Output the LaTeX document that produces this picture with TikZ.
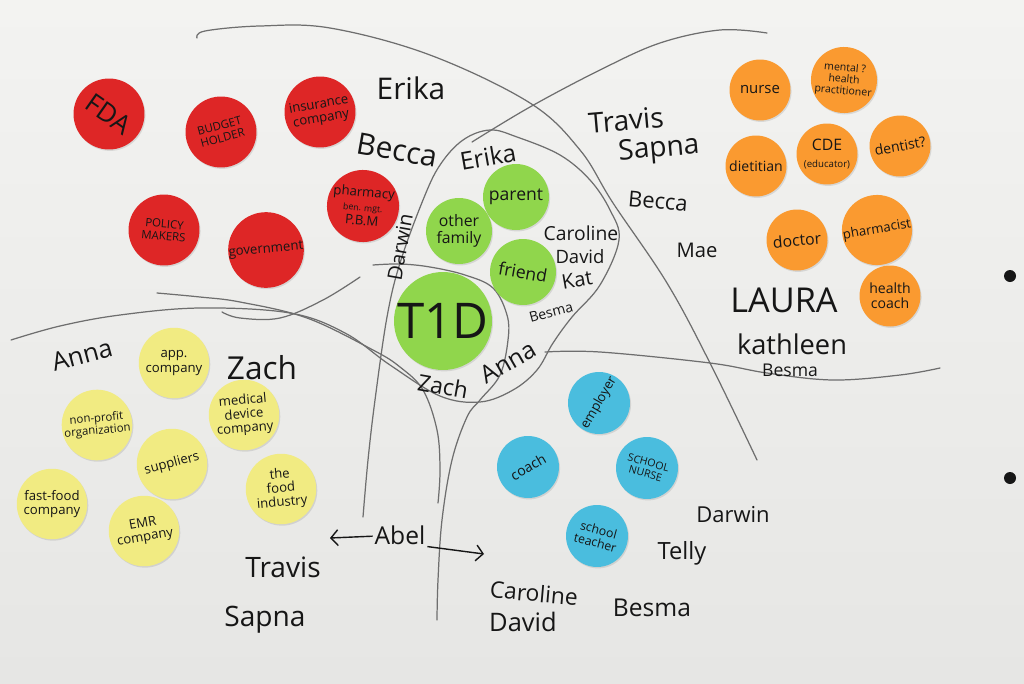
\documentclass[tikz,border=0pt]{standalone}
\usepackage{fontspec}
\setmainfont{Open Sans}
\usepackage{tikz}
\usetikzlibrary{arrows,arrows.meta,positioning,shadows}

\definecolor{boardtop}{RGB}{243,243,241}
\definecolor{boardbottom}{RGB}{230,230,228}
\definecolor{pencil}{RGB}{110,110,110}
\definecolor{ink}{RGB}{22,22,22}
\definecolor{stickerred}{RGB}{222,38,38}
\definecolor{stickerorange}{RGB}{250,154,48}
\definecolor{stickergreen}{RGB}{144,214,76}
\definecolor{stickeryellow}{RGB}{241,235,130}
\definecolor{stickercyan}{RGB}{74,189,222}

\begin{document}
\begin{tikzpicture}[x=0.02cm,y=-0.02cm,
    sticker/.style={circle, inner sep=0pt, align=center, text=ink,
      font=\fontsize{7.5}{8}\selectfont,
      drop shadow={opacity=0.22, shadow xshift=0.6pt, shadow yshift=-0.8pt}},
    redsticker/.style={sticker, fill=stickerred, minimum size=1.42cm},
    orangesticker/.style={sticker, fill=stickerorange, minimum size=1.22cm},
    greensticker/.style={sticker, fill=stickergreen, minimum size=1.32cm},
    yellowsticker/.style={sticker, fill=stickeryellow, minimum size=1.41cm},
    cyansticker/.style={sticker, fill=stickercyan, minimum size=1.24cm},
    who/.style={text=ink, inner sep=1pt, font=\fontsize{#1}{#1}\selectfont},
    pencilline/.style={draw=pencil, line width=0.7pt, line cap=round, line join=round},
    abelarrow/.style={ink, line width=0.8pt, -{Straight Barb[length=4pt,width=9pt]}}]
                \shade[top color=boardtop, bottom color=boardbottom] (0,0) rectangle (1024,683);
                \useasboundingbox (0,0) rectangle (1024,683);
                % pencil lines
                \draw[pencilline] plot[smooth, tension=0.6] coordinates {(197,38) (205,31) (260,26) (330,28) (430,55) (530,103) (580,150) (613,203) (667,283) (710,363) (757,460)};
                \draw[pencilline] plot[smooth, tension=0.6] coordinates {(767,33) (720,30) (660,43) (600,70) (530,107) (472,142)};
                \draw[pencilline] plot[smooth, tension=0.6] coordinates {(11,340) (60,326) (120,315) (200,308) (290,313) (345,333) (390,365) (440,396) (480,402) (513,390) (537,370) (553,343) (572,317) (600,285) (619,240) (610,210) (590,180) (560,155) (517,137) (490,130) (463,140) (440,165) (423,200) (400,263) (387,317) (375,400) (368,460) (363,517)};
                \draw[pencilline] plot[smooth, tension=0.6] coordinates {(373,265) (400,264) (430,267) (465,275) (493,288) (507,315) (508,340) (500,375) (480,400) (467,417) (452,460) (442,520) (438,580) (437,620)};
                \draw[pencilline] plot[smooth, tension=0.6] coordinates {(157,293) (200,297) (240,302) (307,318) (373,350) (400,367) (423,390) (437,430) (440,470) (438,503)};
                \draw[pencilline] plot[smooth, tension=0.6] coordinates {(222,312) (240,318) (280,318) (323,300) (360,277)};
                \draw[pencilline] plot[smooth, tension=0.6] coordinates {(545,352) (600,352) (710,363) (767,373) (833,380) (900,375) (940,368)};
                % red stickers
                \node[redsticker, font=\fontsize{15}{15}\selectfont] (fda) at (109,114) {\rotatebox{-35}{FDA}};
                \node[redsticker, font=\fontsize{6.5}{7}\selectfont, rotate=15] (budget) at (221,132) {BUDGET\\HOLDER};
                \node[redsticker, rotate=10] (insurance) at (320,112) {insurance\\company};
                \node[redsticker, font=\fontsize{6.5}{7}\selectfont, rotate=-5] (policy) at (164,230) {POLICY\\MAKERS};
                \node[redsticker, rotate=5] (government) at (266,250) {government};
                \node[redsticker, minimum size=1.36cm, rotate=-5] (pbm) at (363,206) {pharmacy\\{\fontsize{5}{5}\selectfont ben. mgt.}\\P.B.M};
                % orange stickers
                \node[orangesticker, font=\fontsize{8.5}{9}\selectfont] (nurse) at (760,90) {nurse};
                \node[orangesticker, font=\fontsize{6}{6.5}\selectfont, rotate=-5] (mental) at (844,80) {mental ?\\health\\practitioner};
                \node[orangesticker, font=\fontsize{8}{8.5}\selectfont] (dietitian) at (756,166) {dietitian};
                \node[orangesticker, font=\fontsize{9}{9.5}\selectfont] (cde) at (827,154) {CDE\\{\fontsize{5.5}{6}\selectfont (educator)}};
                \node[orangesticker, font=\fontsize{8}{8.5}\selectfont, rotate=10] (dentist) at (900,146) {dentist?};
                \node[orangesticker, font=\fontsize{9}{9.5}\selectfont, rotate=5] (doctor) at (797,240) {doctor};
                \node[orangesticker, font=\fontsize{7.5}{8}\selectfont, rotate=10] (pharmacist) at (877,230) {pharmacist};
                \node[orangesticker, font=\fontsize{8}{8.5}\selectfont] (health_coach) at (890,296) {health\\coach};
                % green stickers
                \node[greensticker, font=\fontsize{10}{10}\selectfont] (parent) at (516,197) {parent};
                \node[greensticker, font=\fontsize{9}{9.5}\selectfont] (other_family) at (459,231) {other\\family};
                \node[greensticker, font=\fontsize{10}{10}\selectfont, rotate=-10] (friend) at (523,272) {friend};
                \node[greensticker, minimum size=1.96cm, font=\fontsize{28}{28}\selectfont] (t1d) at (443,321) {T1D};
                % yellow stickers
                \node[yellowsticker] (app) at (174,363) {app.\\company};
                \node[yellowsticker, font=\fontsize{6.5}{7}\selectfont, rotate=5] (nonprofit) at (97,425) {non-profit\\organization};
                \node[yellowsticker, rotate=5] (device) at (244,415) {medical\\device\\company};
                \node[yellowsticker, rotate=15] (suppliers) at (172,464) {suppliers};
                \node[yellowsticker] (fastfood) at (52,504) {fast-food\\company};
                \node[yellowsticker, rotate=10] (emr) at (144,531) {EMR\\company};
                \node[yellowsticker, rotate=5] (food_industry) at (281,489) {the\\food\\industry};
                % cyan stickers
                \node[cyansticker, rotate=60] (employer) at (599,403) {employer};
                \node[cyansticker, font=\fontsize{8}{8.5}\selectfont, rotate=30] (coach) at (528,467) {coach};
                \node[cyansticker, font=\fontsize{6}{6.5}\selectfont, rotate=-15] (school_nurse) at (647,468) {SCHOOL\\NURSE};
                \node[cyansticker, font=\fontsize{7}{7.5}\selectfont, rotate=-15] (school_teacher) at (597,536) {school\\teacher};
                % names
                \node[who=17] (erika_top) at (411,88) {Erika};
                \node[who=17, rotate=-10] (becca_top) at (397,150) {Becca};
                \node[who=16, rotate=5] (travis_top) at (626,120) {Travis};
                \node[who=16, rotate=5] (sapna_top) at (659,150) {Sapna};
                \node[who=12.5, rotate=-5] (becca_right) at (658,201) {Becca};
                \node[who=11.5] (mae) at (697,250) {Mae};
                \node[who=19.5] (laura) at (784,300) {LAURA};
                \node[who=15.5] (kathleen) at (792,344) {kathleen};
                \node[who=10] (besma_right) at (790,370) {Besma};
                \node[who=14, rotate=10] (erika_in) at (488,157) {Erika};
                \node[who=11] (caroline_in) at (581,233) {Caroline};
                \node[who=10.5] (david_in) at (580,257) {David};
                \node[who=11.5, rotate=10] (kat_in) at (577,280) {Kat};
                \node[who=8, rotate=15] (besma_in) at (551,312) {Besma};
                \node[who=11.5, rotate=80] (darwin_in) at (400,247) {Darwin};
                \node[who=14, rotate=30] (anna_in) at (508,362) {Anna};
                \node[who=13, rotate=-10] (zach_in) at (443,386) {Zach};
                \node[who=14.5, rotate=15] (anna_left) at (82,355) {Anna};
                \node[who=18] (zach_left) at (262,368) {Zach};
                \node[who=16] (travis_bottom) at (283,567) {Travis};
                \node[who=16] (sapna_bottom) at (265,620) {Sapna};
                \node[who=14] (abel) at (400,535) {Abel};
                \node[who=13, rotate=-5] (caroline_bottom) at (534,593) {Caroline};
                \node[who=14.5] (david_bottom) at (523,622) {David};
                \node[who=14] (besma_bottom) at (652,608) {Besma};
                \node[who=13.5] (telly) at (682,553) {Telly};
                \node[who=12.5] (darwin_right) at (733,515) {Darwin};
                \coordinate (abel_left) at (330,538);
                \coordinate (abel_right) at (484,554);
                \draw[abelarrow] (abel) -- (abel_left);
                \draw[abelarrow] (abel.south east) -- (abel_right);
                % magnets
                \fill[ink] (1010,276) circle [radius=6];
                \fill[ink] (1010,478) circle [radius=6];
\end{tikzpicture}
\end{document}
